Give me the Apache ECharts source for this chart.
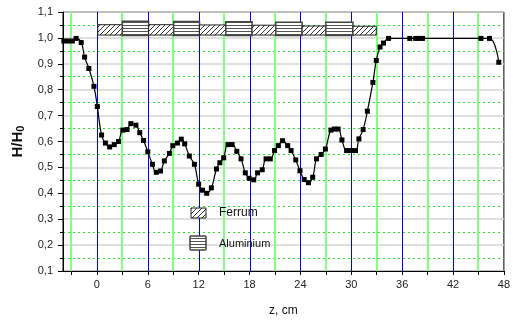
<!DOCTYPE html>
<html><head><meta charset="utf-8">
<script src="https://cdn.jsdelivr.net/npm/echarts@6/dist/echarts.min.js"></script>
<style>html,body{margin:0;padding:0;background:#fff}#c{width:513px;height:322px}</style>
</head><body><div id="c"></div>
<script>
// Data
var zValues = [-3.9,-3.4,-2.9,-2.45,-1.85,-1.45,-0.95,-0.35,0.05,0.55,1.0,1.5,2.05,2.55,3.05,3.55,4.0,4.6,5.05,5.5,6.0,6.55,7.0,7.5,7.95,8.55,8.95,9.5,9.95,10.35,10.9,11.5,12.0,12.45,12.95,13.5,14.1,14.5,14.95,15.45,15.95,16.5,17.0,17.5,17.95,18.5,18.95,19.5,19.95,20.45,20.95,21.4,21.9,22.5,22.9,23.45,23.95,24.45,24.95,25.45,25.9,26.45,26.95,27.6,28.0,28.45,28.9,29.45,29.95,30.5,30.9,31.4,31.9,32.55,32.95,33.4,33.8,34.4,36.9,37.6,38.0,38.4,45.3,46.3,47.4];
var hValues = [0.988,0.988,0.988,0.998,0.982,0.926,0.882,0.813,0.735,0.625,0.594,0.579,0.588,0.600,0.644,0.646,0.669,0.663,0.634,0.604,0.560,0.512,0.481,0.486,0.525,0.554,0.584,0.594,0.609,0.591,0.544,0.512,0.435,0.412,0.400,0.421,0.494,0.518,0.537,0.588,0.588,0.562,0.533,0.479,0.458,0.452,0.479,0.491,0.533,0.533,0.565,0.584,0.603,0.584,0.565,0.529,0.487,0.453,0.441,0.462,0.533,0.550,0.571,0.644,0.648,0.648,0.606,0.565,0.565,0.565,0.610,0.646,0.717,0.828,0.913,0.965,0.980,0.998,0.998,0.998,0.998,0.998,0.998,0.998,0.906];
var xLabelValues = [0,6,12,18,24,30,36,42,48];
var xTickValues = [-3,0,3,6,9,12,15,18,21,24,27,30,33,36,39,42,45,48];
var blueLines = [0,6,12,18,24,30,36,42];
var greenLines = [-3,3,9,15,21,27,33,39,45];
// ring boxes: start, end, bottom, top, material
var boxStart = [0.1,3.0,6.1,9.05,12.1,15.2,18.3,21.1,24.2,27.0,30.2];
var boxEnd   = [3.0,6.1,9.05,12.1,15.2,18.3,21.1,24.2,27.0,30.2,32.95];
var boxBottom= [1.011,1.009,1.011,1.009,1.011,1.009,1.011,1.009,1.011,1.009,1.011];
var boxTop   = [1.051,1.064,1.051,1.063,1.050,1.062,1.049,1.060,1.046,1.060,1.045];
var boxMaterial = ['Ferrum','Aluminium','Ferrum','Aluminium','Ferrum','Aluminium','Ferrum','Aluminium','Ferrum','Aluminium','Ferrum'];
var legendNames = ['Ferrum','Aluminium'];

function hatchCanvas(){
  var c=document.createElement('canvas');c.width=5;c.height=5;
  var g=c.getContext('2d');g.fillStyle='#fff';g.fillRect(0,0,5,5);
  g.strokeStyle='#333';g.lineWidth=1;
  g.beginPath();g.moveTo(-1,6);g.lineTo(6,-1);g.moveTo(-1,1);g.lineTo(1,-1);g.moveTo(4,6);g.lineTo(6,4);g.stroke();
  return c;
}
function stripeCanvas(){
  var c=document.createElement('canvas');c.width=4;c.height=3;
  var g=c.getContext('2d');g.fillStyle='#fff';g.fillRect(0,0,4,3);
  g.fillStyle='#555';g.fillRect(0,1,4,1);
  return c;
}
var hatch={image:hatchCanvas(),repeat:'repeat'};
var stripe={image:stripeCanvas(),repeat:'repeat'};

var curve = zValues.map(function(z,i){return [z,hValues[i]];});
var boxes = boxStart.map(function(s,i){return [s,boxEnd[i],boxBottom[i],boxTop[i],boxMaterial[i]==='Ferrum'?0:1];});
var vlines = blueLines.map(function(v){return [v,0];}).concat(greenLines.map(function(v){return [v,1];}));

var chart = echarts.init(document.getElementById('c'),null,{renderer:'canvas'});

chart.setOption({
  animation:false,
  backgroundColor:'#fff',
  grid:{left:63,right:6,top:12,bottom:44,show:true,borderColor:'#000',borderWidth:1,backgroundColor:'transparent'},
  xAxis:{type:'value',min:-4,max:48,
    name:'z, cm',nameLocation:'middle',nameGap:34,
    nameTextStyle:{fontFamily:'Liberation Sans, Arial',fontSize:12,color:'#111'},
    axisLine:{show:true,onZero:false,lineStyle:{color:'#000',width:1}},
    axisTick:{show:true,customValues:xTickValues,length:4,lineStyle:{color:'#000'}},
    axisLabel:{customValues:xLabelValues,margin:8,fontFamily:'Liberation Sans, Arial',fontSize:11,color:'#222'},
    splitLine:{show:false}},
  yAxis:{type:'value',min:0.1,max:1.1,interval:0.1,
    name:'H/H{s|0}',nameLocation:'middle',nameGap:28,nameRotate:90,
    nameTextStyle:{fontFamily:'Liberation Sans, Arial',fontSize:15,fontWeight:'bold',color:'#111',
      rich:{s:{fontSize:11,fontWeight:'bold',verticalAlign:'bottom',padding:[6,0,0,0],fontFamily:'Liberation Sans, Arial'}}},
    axisLine:{show:true,onZero:false,lineStyle:{color:'#000',width:1}},
    axisTick:{show:true,length:5,lineStyle:{color:'#000'}},
    minorTick:{show:true,splitNumber:2,length:3,lineStyle:{color:'#000'}},
    axisLabel:{margin:10,fontFamily:'Liberation Sans, Arial',fontSize:11,color:'#222',
      formatter:function(v){return Number(v).toFixed(1).replace('.',',');}},
    splitLine:{show:true,lineStyle:{color:'#d4d4d4',width:1.5}},
    minorSplitLine:{show:true,lineStyle:{color:'#22e022',width:1,type:[2,3]}}},
  series:[
    {type:'custom',name:'vgrid',data:vlines,z:1,silent:true,
      renderItem:function(params,api){
        var top=api.coord([api.value(0),1.1]);
        var bot=api.coord([api.value(0),0.1]);
        var blue=api.value(1)===0;
        var x=blue?Math.round(top[0])+0.5:Math.round(top[0]);
        return {type:'line',shape:{x1:x,y1:top[1],x2:x,y2:bot[1]},
          style:{stroke:blue?'#0000ff':'#80ff80',lineWidth:blue?1:2}};
      }},
    {type:'line',name:'H/H0',data:curve,smooth:0.45,symbol:'rect',symbolSize:5,
      itemStyle:{color:'#000'},lineStyle:{color:'#000',width:1.2},z:3},
    {type:'custom',name:'rings',data:boxes,z:4,silent:true,
      renderItem:function(params,api){
        var p1=api.coord([api.value(0),api.value(3)]);
        var p2=api.coord([api.value(1),api.value(2)]);
        var mat=api.value(4);
        return {type:'rect',shape:{x:p1[0],y:p1[1],width:p2[0]-p1[0],height:p2[1]-p1[1]},
          style:{fill:mat===0?hatch:stripe,stroke:mat===0?'#222':'#444',lineWidth:mat===0?1:1.5}};
      }}
  ],
  graphic:[
    {type:'rect',shape:{x:191,y:208,width:15,height:10},style:{fill:hatch,stroke:'#222',lineWidth:1},z:10},
    {type:'text',x:219,y:213,style:{text:legendNames[0],fontFamily:'Liberation Sans, Arial',fontSize:12,fill:'#111',textVerticalAlign:'middle'},z:10},
    {type:'rect',shape:{x:190,y:236,width:16,height:14,r:1},style:{fill:stripe,stroke:'#444',lineWidth:1.5},z:10},
    {type:'text',x:219,y:243.5,style:{text:legendNames[1],fontFamily:'Liberation Sans, Arial',fontSize:11,fill:'#111',textVerticalAlign:'middle'},z:10}
  ]
});
</script></body></html>
